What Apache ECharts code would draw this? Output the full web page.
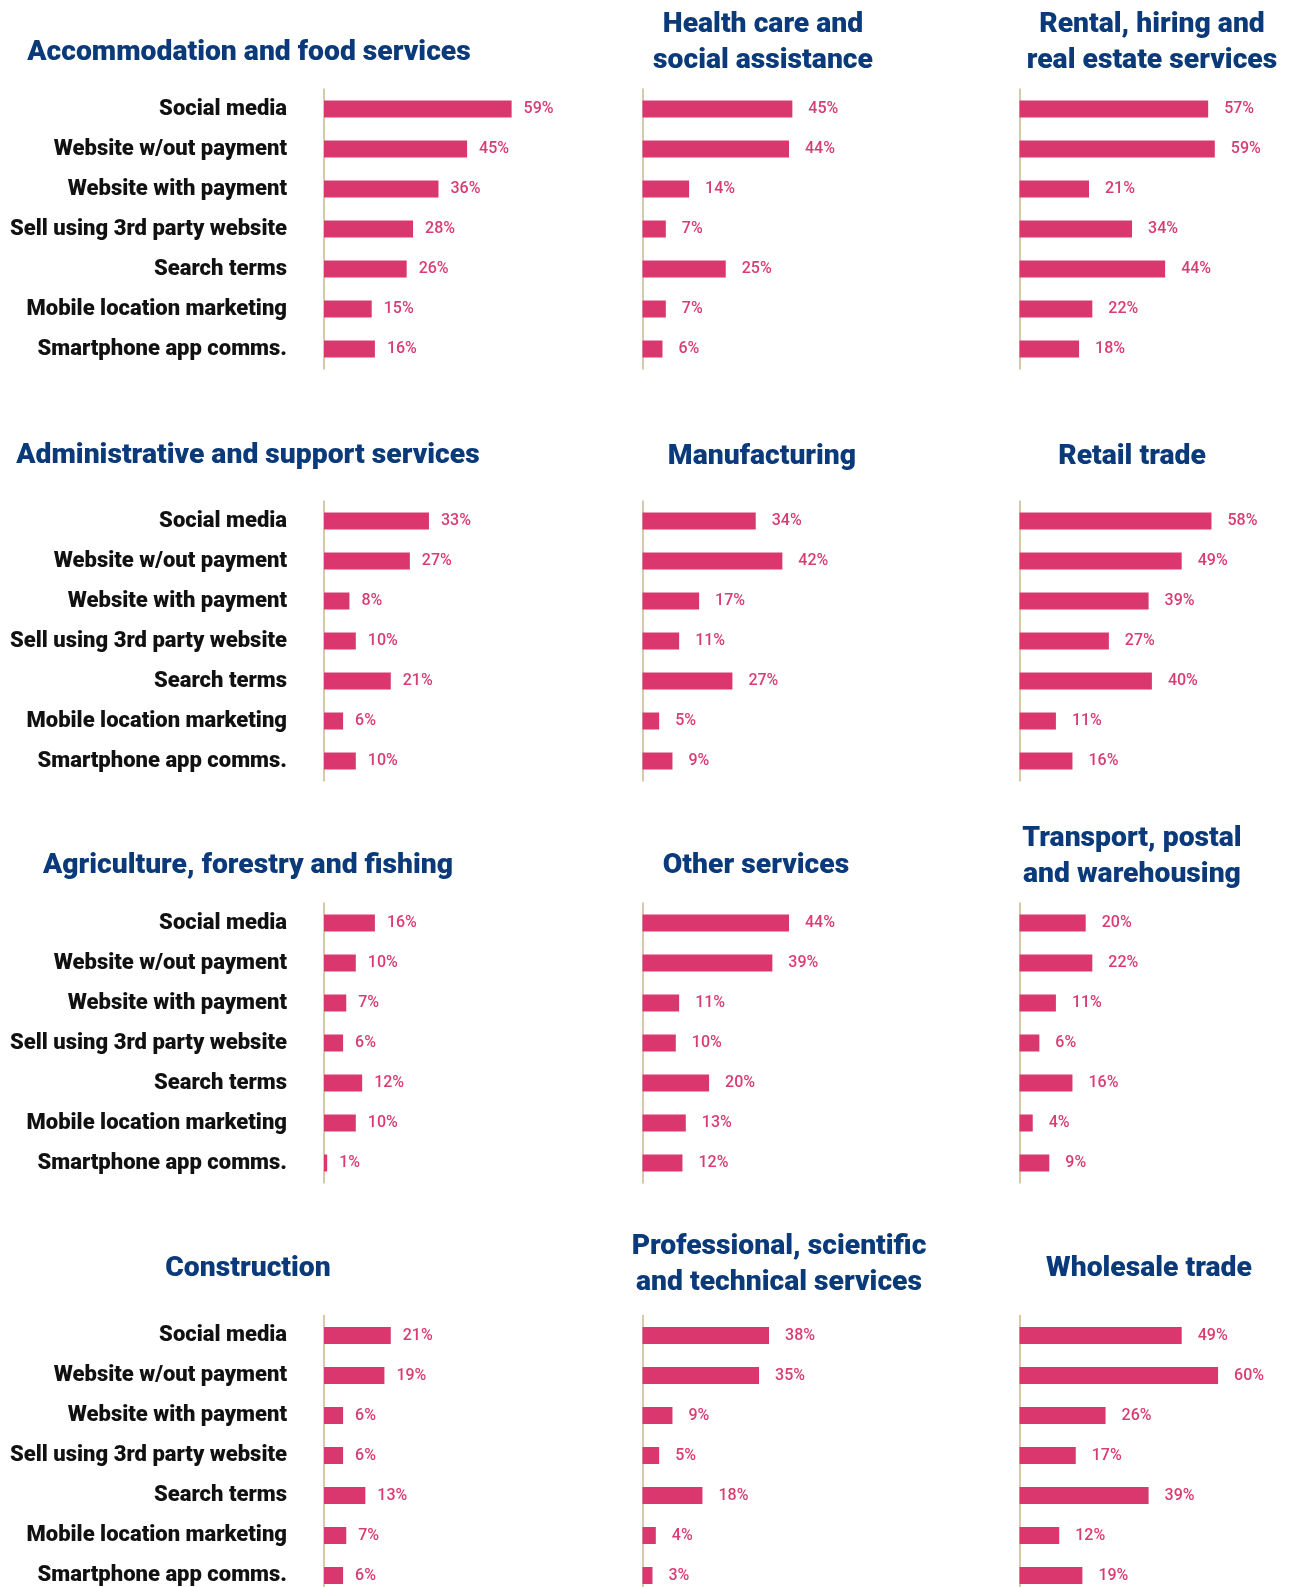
<!DOCTYPE html>
<html>
<head>
<meta charset="utf-8">
<script src="https://cdn.jsdelivr.net/npm/echarts@6/dist/echarts.min.js"></script>
<style>
  html, body { margin: 0; padding: 0; background: #ffffff; overflow: hidden; }
  #chart { width: 1289px; height: 1640px; }
</style>
</head>
<body>
<div id="chart"></div>
<script>
// Online channels used, share of businesses (%), by industry
const channels = [
  'Social media',
  'Website w/out payment',
  'Website with payment',
  'Sell using 3rd party website',
  'Search terms',
  'Mobile location marketing',
  'Smartphone app comms.'
];

const industryNames = [
  'Accommodation and food services',
  'Health care and\nsocial assistance',
  'Rental, hiring and\nreal estate services',
  'Administrative and support services',
  'Manufacturing',
  'Retail trade',
  'Agriculture, forestry and fishing',
  'Other services',
  'Transport, postal\nand warehousing',
  'Construction',
  'Professional, scientific\nand technical services',
  'Wholesale trade'
];

const accommodation  = [59, 45, 36, 28, 26, 15, 16];
const healthCare     = [45, 44, 14, 7, 25, 7, 6];
const rentalHiring   = [57, 59, 21, 34, 44, 22, 18];
const administrative = [33, 27, 8, 10, 21, 6, 10];
const manufacturing  = [34, 42, 17, 11, 27, 5, 9];
const retailTrade    = [58, 49, 39, 27, 40, 11, 16];
const agriculture    = [16, 10, 7, 6, 12, 10, 1];
const otherServices  = [44, 39, 11, 10, 20, 13, 12];
const transport      = [20, 22, 11, 6, 16, 4, 9];
const construction   = [21, 19, 6, 6, 13, 7, 6];
const professional   = [38, 35, 9, 5, 18, 4, 3];
const wholesaleTrade = [49, 60, 26, 17, 39, 12, 19];

const industryValues = [
  accommodation, healthCare, rentalHiring,
  administrative, manufacturing, retailTrade,
  agriculture, otherServices, transport,
  construction, professional, wholesaleTrade
];

// ---- layout ----
const AXIS_MAX = 70;
const colLeft  = [324, 642.5, 1019.5];
const colScale = [3.18, 3.33, 3.31];        // px per percentage point
const colLabelGap = [12, 16, 16];
const rowTop = [89, 501, 903, 1315.5];
const gridHeight = 280;
// title centre per panel
const titlePos = [
  [249, 53], [763, 42.5], [1152, 42.5],
  [248, 456], [762, 457], [1132, 457],
  [248, 866], [756, 866], [1132, 857],
  [248, 1269], [779, 1264.5], [1149, 1269]
];

const BAR = '#d9376e';
const LABEL = '#d93d70';
const AXIS_LINE = '#c9b98b';
const NAVY = '#0a3a7a';

const grids = [], xAxes = [], yAxes = [], series = [], graphics = [];

industryValues.forEach((vals, i) => {
  const col = i % 3, row = Math.floor(i / 3);
  grids.push({
    left: colLeft[col],
    top: rowTop[row],
    width: AXIS_MAX * colScale[col],
    height: gridHeight,
    containLabel: false
  });
  xAxes.push({
    gridIndex: i, type: 'value', min: 0, max: AXIS_MAX,
    show: false, splitLine: { show: false }
  });
  yAxes.push({
    gridIndex: i, type: 'category', data: channels, inverse: true,
    axisLine: { show: true, lineStyle: { color: AXIS_LINE, width: 1.5 } },
    axisTick: { show: false },
    splitLine: { show: false },
    axisLabel: {
      show: col === 0,
      margin: 37,
      color: '#111111',
      fontFamily: 'Roboto',
      fontWeight: 900,
      fontSize: 22
    }
  });
  series.push({
    type: 'bar',
    xAxisIndex: i, yAxisIndex: i,
    data: vals,
    barWidth: 17,
    itemStyle: { color: BAR },
    label: {
      show: true,
      position: 'right',
      distance: colLabelGap[col],
      formatter: '{c}%',
      color: LABEL,
      fontFamily: 'Roboto',
      fontWeight: 500,
      fontSize: 16
    },
    silent: true,
    animation: false
  });
  graphics.push({
    type: 'text',
    x: titlePos[i][0],
    y: titlePos[i][1],
    style: {
      text: industryNames[i],
      fill: NAVY,
      font: '900 28.3px Roboto',
      lineHeight: 36,
      align: 'center',
      verticalAlign: 'middle'
    }
  });
});

const chart = echarts.init(document.getElementById('chart'), null, { renderer: 'canvas' });
chart.setOption({
  backgroundColor: '#ffffff',
  animation: false,
  grid: grids,
  xAxis: xAxes,
  yAxis: yAxes,
  series: series,
  graphic: graphics
});
</script>
</body>
</html>
